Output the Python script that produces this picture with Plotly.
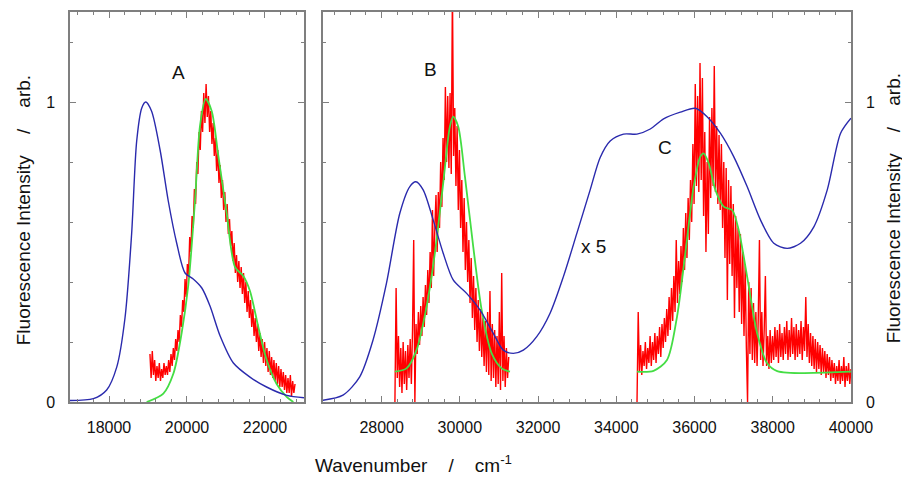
import numpy as np
import plotly.graph_objects as go

# ---------------- data ----------------
# Panel A (visible region)
blue_a_x = [17000, 17600, 17940, 18200, 18410, 18580, 18710, 18840, 18940, 19090, 19310, 19520,
            19735, 19950, 20160, 20380, 20590, 20850, 21190, 21615, 22040, 22560, 23000]
blue_a_y = [0.005, 0.011, 0.04, 0.117, 0.28, 0.56, 0.87, 0.98, 1.0, 0.97, 0.84, 0.67,
            0.53, 0.43, 0.41, 0.38, 0.32, 0.22, 0.13, 0.083, 0.05, 0.022, 0.014]

green_a_x = [18966, 19393, 19650, 19863, 20034, 20205, 20333, 20479, 20633, 20804, 21017, 21231,
             21444, 21615, 21829, 22043, 22299, 22556, 22727]
green_a_y = [0.0, 0.028, 0.094, 0.23, 0.39, 0.67, 0.92, 1.01, 0.97, 0.82, 0.63, 0.45,
             0.42, 0.37, 0.25, 0.14, 0.06, 0.017, 0.0]

red_a_start, red_a_end = 19050, 22770
red_a_y = [0.16, 0.08, 0.17, 0.09, 0.14, 0.07, 0.12, 0.08, 0.13, 0.07, 0.11, 0.08, 0.13, 0.09, 0.12, 0.09,
           0.14, 0.10, 0.16, 0.12, 0.18, 0.14, 0.21, 0.17, 0.24, 0.20, 0.29, 0.25, 0.34, 0.30, 0.41, 0.35,
           0.46, 0.42, 0.55, 0.50, 0.62, 0.58, 0.71, 0.66, 0.80, 0.76, 0.90, 0.84, 0.97, 0.90, 1.03, 0.93,
           1.06, 0.95, 1.02, 0.90, 0.97, 0.86, 0.93, 0.82, 0.88, 0.77, 0.84, 0.73, 0.79, 0.68, 0.74, 0.64,
           0.70, 0.60, 0.66, 0.56, 0.61, 0.52, 0.57, 0.47, 0.53, 0.43, 0.49, 0.40, 0.47, 0.38, 0.45, 0.36,
           0.43, 0.33, 0.40, 0.30, 0.37, 0.28, 0.34, 0.25, 0.31, 0.22, 0.28, 0.20, 0.26, 0.17, 0.23, 0.15,
           0.21, 0.13, 0.20, 0.12, 0.18, 0.10, 0.17, 0.09, 0.15, 0.08, 0.14, 0.07, 0.13, 0.06, 0.12, 0.05,
           0.11, 0.05, 0.10, 0.04, 0.09, 0.03, 0.08, 0.03, 0.09, 0.02, 0.07, 0.03, 0.06]

# Panels B and C
blue_bc_x = [26500, 27012, 27440, 27781, 28124, 28465, 28721, 28875, 29062, 29318, 29574, 29830,
             30173, 30514, 30855, 31111, 31367, 31623, 31966, 32307, 32648, 32991, 33332, 33588,
             33844, 34185, 34528, 34869, 35209, 35637, 36021, 36321, 36661, 37002, 37345, 37686,
             38027, 38370, 38710, 39051, 39394, 39735, 40000]
blue_bc_y = [0.006, 0.023, 0.084, 0.207, 0.396, 0.629, 0.718, 0.734, 0.707, 0.607, 0.496, 0.407,
             0.362, 0.307, 0.229, 0.173, 0.162, 0.173, 0.218, 0.296, 0.418, 0.562, 0.707, 0.815,
             0.87, 0.893, 0.893, 0.91, 0.944, 0.966, 0.979, 0.951, 0.896, 0.818, 0.718, 0.607,
             0.529, 0.512, 0.529, 0.584, 0.707, 0.896, 0.946]

green_b_x = [28337, 28636, 28892, 29149, 29361, 29574, 29745, 29830, 29958, 30130, 30342, 30557,
             30814, 31070, 31282]
green_b_y = [0.101, 0.112, 0.173, 0.318, 0.496, 0.729, 0.918, 0.951, 0.918, 0.751, 0.518, 0.307,
             0.162, 0.112, 0.101]

green_c_x = [34528, 34953, 35296, 35552, 35765, 35978, 36148, 36233, 36362, 36533, 36746, 36961,
             37130, 37345, 37601, 37857, 38114, 40000]
green_c_y = [0.101, 0.104, 0.14, 0.284, 0.496, 0.718, 0.818, 0.829, 0.796, 0.707, 0.651, 0.64,
             0.573, 0.418, 0.229, 0.129, 0.103, 0.101]

red_b_start, red_b_end = 28340, 31250
red_b_y = [0.00, 0.38, 0.08, 0.22, 0.05, 0.18, 0.03, 0.20, 0.06, 0.17, 0.04, 0.19, 0.08, 0.21, 0.06, 0.24,
           0.54, 0.00, 0.26, 0.16, 0.30, 0.19, 0.32, 0.22, 0.35, 0.25, 0.39, 0.29, 0.44, 0.33, 0.50, 0.38,
           0.64, 0.42, 0.58, 0.69, 0.50, 0.70, 0.58, 0.80, 0.65, 0.88, 0.74, 1.05, 0.80, 1.02, 0.78, 1.03,
           0.76, 1.38, 0.82, 0.98, 0.72, 0.92, 0.64, 0.84, 0.58, 0.74, 0.50, 0.68, 0.44, 0.60, 0.40, 0.54,
           0.33, 0.48, 0.28, 0.42, 0.24, 0.38, 0.20, 0.34, 0.17, 0.31, 0.15, 0.28, 0.12, 0.27, 0.10, 0.30,
           0.09, 0.37, 0.07, 0.26, 0.08, 0.24, 0.05, 0.22, 0.06, 0.30, 0.04, 0.43, 0.07, 0.22, 0.05, 0.18,
           0.08, 0.15]

red_c_start, red_c_end = 34530, 40000
red_c_y = [0.00, 0.30, 0.10, 0.19, 0.09, 0.17, 0.12, 0.20, 0.11, 0.18, 0.13, 0.22, 0.12, 0.20, 0.14, 0.23,
           0.13, 0.22, 0.16, 0.25, 0.15, 0.26, 0.18, 0.28, 0.20, 0.31, 0.22, 0.35, 0.24, 0.38, 0.27, 0.42,
           0.30, 0.54, 0.33, 0.47, 0.36, 0.52, 0.40, 0.58, 0.44, 0.63, 0.48, 0.68, 0.54, 0.74, 0.60, 0.86,
           0.66, 1.06, 0.72, 1.02, 0.70, 1.13, 0.74, 1.08, 0.62, 0.90, 0.50, 0.80, 0.56, 0.95, 0.68, 0.98,
           0.72, 1.12, 0.70, 0.92, 0.66, 0.89, 0.64, 0.86, 0.58, 0.80, 0.48, 0.78, 0.34, 0.74, 0.46, 0.72,
           0.42, 0.66, 0.28, 0.62, 0.38, 0.58, 0.30, 0.56, 0.26, 0.50, 0.22, 0.46, 0.18, 0.00, 0.40, 0.16,
           0.38, 0.14, 0.33, 0.13, 0.30, 0.12, 0.28, 0.54, 0.14, 0.30, 0.12, 0.24, 0.42, 0.12, 0.22, 0.11,
           0.24, 0.13, 0.22, 0.14, 0.25, 0.15, 0.24, 0.13, 0.26, 0.15, 0.23, 0.14, 0.25, 0.16, 0.27, 0.14,
           0.24, 0.15, 0.28, 0.16, 0.25, 0.14, 0.26, 0.15, 0.24, 0.16, 0.27, 0.14, 0.25, 0.17, 0.35, 0.15,
           0.26, 0.13, 0.23, 0.12, 0.22, 0.11, 0.21, 0.10, 0.20, 0.11, 0.19, 0.09, 0.18, 0.10, 0.17, 0.08,
           0.16, 0.09, 0.15, 0.07, 0.14, 0.08, 0.13, 0.06, 0.12, 0.07, 0.14, 0.06, 0.12, 0.07, 0.15, 0.05,
           0.12, 0.07, 0.13, 0.06, 0.11]

labels = [("A", "x", "y", 19770, 1.10), ("B", "x2", "y2", 29250, 1.107),
          ("C", "x2", "y2", 35250, 0.85), ("x 5", "x2", "y2", 33420, 0.52)]

# ---------------- styles ----------------
BLUE = "#2a2aad"
GREEN = "#44dd44"
RED = "#ff0000"
FRAME = "#7f7f7f"
FONT = "Liberation Sans, Arial, sans-serif"

red_a_x = np.linspace(red_a_start, red_a_end, len(red_a_y))
red_b_x = np.linspace(red_b_start, red_b_end, len(red_b_y))
red_c_x = np.linspace(red_c_start, red_c_end, len(red_c_y))

fig = go.Figure()

def add(x, y, color, width, xa, ya, spline=False):
    fig.add_trace(go.Scatter(x=x, y=y, mode="lines", xaxis=xa, yaxis=ya,
                             line=dict(color=color, width=width, simplify=False,
                                       shape="spline" if spline else "linear",
                                       smoothing=0.8 if spline else None),
                             showlegend=False, hoverinfo="skip"))

add(red_a_x, red_a_y, RED, 1.4, "x", "y")
add(green_a_x, green_a_y, GREEN, 1.8, "x", "y", True)
add(blue_a_x, blue_a_y, BLUE, 1.4, "x", "y", True)

add(red_b_x, red_b_y, RED, 1.4, "x2", "y2")
add(red_c_x, red_c_y, RED, 1.4, "x2", "y2")
add(green_b_x, green_b_y, GREEN, 1.8, "x2", "y2", True)
add(green_c_x, green_c_y, GREEN, 1.8, "x2", "y2", True)
add(blue_bc_x, blue_bc_y, BLUE, 1.4, "x2", "y2", True)

common_axis = dict(showline=True, linecolor=FRAME, linewidth=1.5, mirror="allticks",
                   ticks="inside", ticklen=6, tickcolor=FRAME, tickwidth=1,
                   showgrid=False, zeroline=False, automargin=False,
                   tickfont=dict(family=FONT, size=16, color="#111111"))

# The page body adds an 8 px offset, so the figure is 8 px smaller on each axis.
fig.update_layout(
    width=902, height=471,
    paper_bgcolor="white", plot_bgcolor="white",
    margin=dict(l=62, r=59, t=4, b=77, autoexpand=False),
    font=dict(family=FONT, size=16, color="#111111"),
    xaxis=dict(domain=[0, 0.2996], range=[17000, 23000], tick0=18000, dtick=2000, tickformat="d",
               minor=dict(ticks="inside", ticklen=3, tick0=18000, dtick=400, tickcolor=FRAME),
               anchor="y", ticklabelstandoff=10, **common_axis),
    yaxis=dict(domain=[0, 1], range=[0, 1.3], tickvals=[0, 1], ticktext=["0", "1"],
               minor=dict(ticks="inside", ticklen=3, tick0=0, dtick=0.2, tickcolor=FRAME),
               anchor="x", ticklabelstandoff=10, **common_axis),
    xaxis2=dict(domain=[0.3239, 1], range=[26500, 40001], tick0=28000, dtick=2000, tickformat="d",
                minor=dict(ticks="inside", ticklen=3, tick0=28000, dtick=400, tickcolor=FRAME),
                anchor="y2", ticklabelstandoff=10, **common_axis),
    yaxis2=dict(domain=[0, 1], range=[0, 1.3], tickvals=[0, 1], ticktext=["0", "1"],
                minor=dict(ticks="inside", ticklen=3, tick0=0, dtick=0.2, tickcolor=FRAME),
                anchor="x2", side="right", ticklabelstandoff=10, **common_axis),
)

for txt, xa, ya, xv, yv in labels:
    fig.add_annotation(text=txt, x=xv, y=yv, xref=xa, yref=ya, showarrow=False,
                       font=dict(family=FONT, size=19, color="#111111"))

sp = "\u00a0" * 4
ytitle = "Fluorescence Intensity" + sp + "/" + sp + "arb."
fig.add_annotation(text=ytitle, x=-0.0600, y=0.492, xref="paper", yref="paper",
                   textangle=-90, showarrow=False, xanchor="center", yanchor="middle",
                   font=dict(family=FONT, size=19, color="#111111"))
fig.add_annotation(text=ytitle, x=1.0540, y=0.497, xref="paper", yref="paper",
                   textangle=-90, showarrow=False, xanchor="center", yanchor="middle",
                   font=dict(family=FONT, size=19, color="#111111"))
fig.add_annotation(text="Wavenumber" + sp + "/" + sp + "cm<sup>-1</sup>", x=0.44, y=-0.158,
                   xref="paper", yref="paper", showarrow=False, xanchor="center", yanchor="middle",
                   font=dict(family=FONT, size=19, color="#111111"))

fig.write_html("out.html")
